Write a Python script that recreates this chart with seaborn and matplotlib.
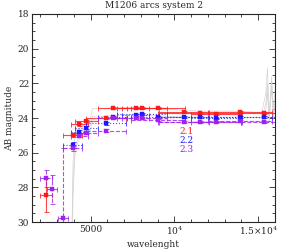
import numpy as np
import pandas as pd
import matplotlib
matplotlib.use("Agg")
import matplotlib.pyplot as plt
from matplotlib.ticker import MultipleLocator, FixedLocator
import seaborn as sns

# ---- data ----
filters = ["F225W", "F275W", "F336W", "F390W", "F435W", "F475W", "F606W", "F625W",
           "F775W", "F814W", "F850LP", "F105W", "F110W", "F125W", "F140W", "F160W"]
wave = [2359, 2704, 3355, 3921, 4317, 4744, 5918, 6310,
        7693, 8059, 9036, 10552, 11534, 12486, 13923, 15369]
halfwidth = [360, 300, 300, 560, 500, 700, 1200, 850,
             800, 1500, 1600, 1500, 2500, 1500, 1900, 1400]

mag_21 = [28.44, np.nan, np.nan, 24.98, 24.36, 24.17, 23.98, 23.44,
          23.41, 23.44, 23.44, 23.65, 23.71, 23.77, 23.65, 23.71]
err_21 = [1.0, 0, 0, 0.12, 0.08, 0.06, 0.06, 0.05,
          0.05, 0.05, 0.06, 0.05, 0.05, 0.05, 0.05, 0.05]
mag_22 = [np.nan, np.nan, np.nan, 25.56, 24.79, 24.56, 24.31, 23.93,
          23.83, 23.77, 23.93, 23.96, 23.96, 24.02, 23.93, 23.93]
err_22 = [0, 0, 0, 0.15, 0.1, 0.08, 0.08, 0.06,
          0.06, 0.06, 0.07, 0.05, 0.05, 0.05, 0.05, 0.05]
mag_23 = [27.48, 28.12, 29.75, 25.75, 25.02, 24.85, 24.73, 24.02,
          24.00, 24.00, 24.12, 24.21, 24.21, 24.25, 24.17, 24.21]
err_23 = [0.5, 0.85, 4.0, 0.15, 0.1, 0.08, 0.08, 0.06,
          0.06, 0.06, 0.07, 0.05, 0.05, 0.05, 0.05, 0.05]

labels = ["2.1", "2.2", "2.3"]
colors = ["#ff1a1a", "#1a1aff", "#a020f0"]
styles = ["-", ":", "--"]

# grey model SEDs
model_wave = [3600, 3850, 3900, 3950, 4050, 4200, 4400, 4600, 4800, 5000, 5100,
              5300, 5800, 6500, 7500, 8500, 9500, 10500, 11500, 12500, 13500,
              14500, 15200, 15450, 15550, 15650, 15800, 15900, 16000]
model_21 = [31.0, 31.0, 29.5, 26.5, 25.2, 24.9, 24.5, 24.4, 24.2, 24.0, 23.45,
            23.45, 23.45, 23.4, 23.4, 23.45, 23.5, 23.55, 23.6, 23.6, 23.6,
            23.65, 23.7, 22.6, 21.1, 23.8, 21.6, 23.5, 22.4]
model_22 = [31.0, 31.0, 30.5, 27.5, 25.9, 25.3, 24.9, 24.7, 24.55, 24.4, 23.9,
            23.9, 23.9, 23.85, 23.8, 23.85, 23.9, 23.95, 23.95, 24.0, 23.95,
            23.95, 24.0, 23.2, 22.0, 24.1, 21.9, 23.9, 22.9]
model_23 = [31.0, 31.0, 31.0, 28.5, 26.3, 25.5, 25.1, 24.9, 24.8, 24.7, 24.1,
            24.05, 24.0, 24.0, 24.0, 24.05, 24.1, 24.15, 24.2, 24.2, 24.2,
            24.2, 24.2, 23.6, 22.5, 24.3, 22.3, 24.1, 23.2]

# ---- plot ----
sns.set_style("ticks")
plt.rcParams["font.family"] = ["DejaVu Serif", "DejaVu Sans"]
plt.rcParams["mathtext.fontset"] = "dejavuserif"

fig = plt.figure(figsize=(2.91, 2.49), dpi=100)
ax = fig.add_axes([0.110, 0.108, 0.835, 0.836])

for m in (model_21, model_22, model_23):
    dfm = pd.DataFrame({"wave": model_wave, "mag": m})
    sns.lineplot(data=dfm, x="wave", y="mag", ax=ax, color="#d2d2d2",
                 lw=0.45, sort=False, estimator=None, zorder=1)

for mags, errs, lab, col, ls in zip((mag_21, mag_22, mag_23),
                                     (err_21, err_22, err_23),
                                     labels, colors, styles):
    eb = ax.errorbar(wave, mags, xerr=halfwidth, yerr=errs, fmt="none",
                     ecolor=col, elinewidth=0.8, capsize=1.8, capthick=0.7,
                     alpha=0.8, zorder=2)
    for lc in eb[2]:
        lc.set_linestyle(ls)
    df = pd.DataFrame({"wave": wave, "mag": mags}).dropna()
    sns.scatterplot(data=df, x="wave", y="mag", ax=ax, color=col, marker="s",
                    s=11, edgecolor=col, linewidth=0.3, zorder=3)

for i, (lab, col) in enumerate(zip(labels, colors)):
    ax.text(0.605, 0.435 - i * 0.042, lab, color=col, transform=ax.transAxes,
            fontsize=6.5, ha="left", va="center")

ax.set_xlim(1500, 16000)
ax.set_ylim(30, 18)
ax.xaxis.set_major_locator(FixedLocator([5000, 10000, 15000]))
ax.set_xticklabels(["5000", r"$10^4$", r"$1.5{\times}10^4$"])
ax.xaxis.set_minor_locator(MultipleLocator(1000))
ax.yaxis.set_major_locator(MultipleLocator(2))
ax.yaxis.set_minor_locator(MultipleLocator(0.5))
ax.tick_params(which="both", direction="in", top=True, right=True,
               labelsize=6.5, width=0.6, pad=2)
ax.tick_params(which="major", length=4.5)
ax.tick_params(which="minor", length=2.5)
for sp in ax.spines.values():
    sp.set_linewidth(0.8)

ax.set_xlabel("wavelenght", fontsize=6.5, labelpad=2)
ax.set_ylabel("AB magnitude", fontsize=6.5, labelpad=3)
ax.set_title("M1206 arcs system 2", fontsize=6.5, pad=4)

fig.savefig("out.png", dpi=100)
